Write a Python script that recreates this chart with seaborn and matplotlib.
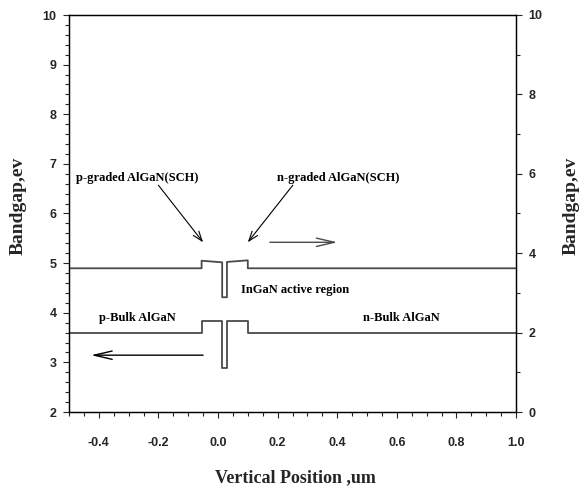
import matplotlib
matplotlib.use("Agg")
import matplotlib.pyplot as plt
import seaborn as sns
import numpy as np
import pandas as pd
from matplotlib.ticker import MultipleLocator

# ---- data ----
x_pos = [-0.5, -0.055, -0.055, 0.014, 0.014, 0.030, 0.030, 0.10, 0.10, 1.0]
gap_left = [3.6, 3.6, 3.83, 3.83, 2.89, 2.89, 3.83, 3.83, 3.6, 3.6]
gap_right = [3.62, 3.62, 3.81, 3.77, 2.89, 2.89, 3.78, 3.82, 3.62, 3.62]
x_ticks = [-0.4, -0.2, 0.0, 0.2, 0.4, 0.6, 0.8, 1.0]
x_tick_labels = ["-0.4", "-0.2", "0.0", "0.2", "0.4", "0.6", "0.8", "1.0"]
left_ticks = [2, 3, 4, 5, 6, 7, 8, 9, 10]
right_ticks = [0, 2, 4, 6, 8, 10]

sns.set_style("ticks")
plt.rcParams["font.family"] = ["Liberation Sans", "DejaVu Sans"]

fig = plt.figure(figsize=(5.87, 4.86), dpi=100)
ax = fig.add_axes([69/587, 1-412/486, 447/587, 397/486])
ax2 = ax.twinx()

line_col = "#4a4a4a"
df1 = pd.DataFrame({"x": x_pos, "y": gap_left})
df2 = pd.DataFrame({"x": x_pos, "y": gap_right})
sns.lineplot(data=df1, x="x", y="y", sort=False, estimator=None, ax=ax,
             color=line_col, lw=1.3)
sns.lineplot(data=df2, x="x", y="y", sort=False, estimator=None, ax=ax2,
             color=line_col, lw=1.3)

ax.set_xlim(-0.5, 1.0)
ax.set_ylim(2, 10)
ax2.set_ylim(0, 10)

tickfont = dict(fontfamily="Liberation Sans", fontweight="bold", fontsize=9)
ax.set_xticks(x_ticks)
ax.set_xticklabels(x_tick_labels, **tickfont)
ax.set_yticks(left_ticks)
ax.set_yticklabels([str(t) for t in left_ticks], **tickfont)
ax2.set_yticks(right_ticks)
ax2.set_yticklabels([str(t) for t in right_ticks], **tickfont)
ax.xaxis.set_minor_locator(MultipleLocator(0.05))
ax.yaxis.set_minor_locator(MultipleLocator(0.2))
ax2.yaxis.set_minor_locator(MultipleLocator(1))

ax.tick_params(axis="x", which="major", direction="out", length=4, width=0.8, pad=14)
ax.tick_params(axis="x", which="minor", direction="out", length=3, width=0.8)
ax.tick_params(axis="y", which="major", direction="out", length=4, width=0.8, pad=5)
ax.tick_params(axis="y", which="minor", direction="out", length=3, width=0.8)
ax2.tick_params(axis="y", which="major", direction="out", length=4, width=0.8, pad=5)
ax2.tick_params(axis="y", which="minor", direction="out", length=3, width=0.8)
for a in (ax, ax2):
    for s in a.spines.values():
        s.set_visible(True)
        s.set_linewidth(0.9)
        s.set_color("black")

ax.set_xlabel("Vertical Position ,um", fontfamily="Liberation Serif",
              fontweight="bold", fontsize=13)
ylabfont = dict(fontfamily="Liberation Serif", fontweight="bold", fontsize=14)
ax.set_ylabel("Bandgap,ev", **ylabfont)
ax2.set_ylabel("Bandgap,ev", **ylabfont)
ax.xaxis.set_label_coords(0.506, -0.145)
ax.yaxis.set_label_coords(-0.095, 0.52)
ax2.yaxis.set_label_coords(1.105, 0.52)

annfont = dict(fontfamily="Liberation Serif", fontweight="bold", fontsize=9,
               color="black")
ax.text(-0.478, 6.71, "p-graded AlGaN(SCH)", va="center", ha="left", **annfont)
ax.text(0.197, 6.71, "n-graded AlGaN(SCH)", va="center", ha="left", **annfont)
ax.text(0.076, 4.456, "InGaN active region", va="center", ha="left", **annfont)
ax.text(-0.401, 3.89, "p-Bulk AlGaN", va="center", ha="left", **annfont)
ax.text(0.485, 3.89, "n-Bulk AlGaN", va="center", ha="left", **annfont)

ax.annotate("", xy=(-0.05, 5.42), xytext=(-0.2, 6.57),
            arrowprops=dict(arrowstyle="->,head_length=0.7,head_width=0.25",
                            lw=0.8, color="black", shrinkA=0, shrinkB=0))
ax.annotate("", xy=(0.10, 5.42), xytext=(0.251, 6.57),
            arrowprops=dict(arrowstyle="->,head_length=0.7,head_width=0.25",
                            lw=0.8, color="black", shrinkA=0, shrinkB=0))
ax.annotate("", xy=(0.401, 5.42), xytext=(0.174, 5.42),
            arrowprops=dict(arrowstyle="->,head_length=1.3,head_width=0.3",
                            lw=1.0, color=line_col, shrinkA=0, shrinkB=0))
ax.annotate("", xy=(-0.426, 3.145), xytext=(-0.05, 3.145),
            arrowprops=dict(arrowstyle="->,head_length=1.3,head_width=0.3",
                            lw=1.0, color="black", shrinkA=0, shrinkB=0))

fig.savefig("out.png", dpi=100)
